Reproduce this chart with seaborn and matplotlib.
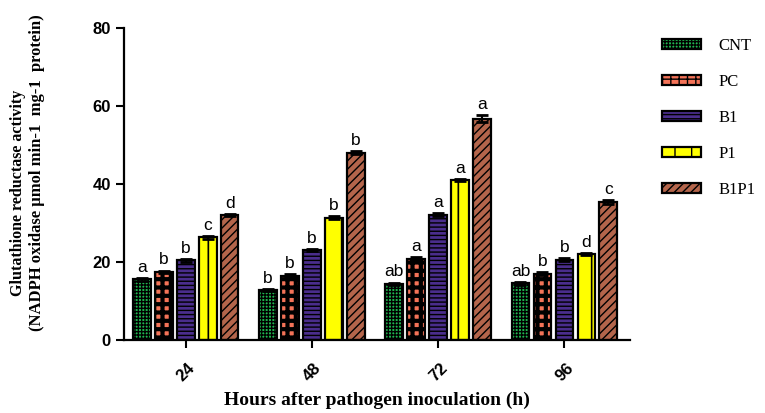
"""Glutathione reductase activity bar chart (grouped, hatched)."""

import matplotlib

matplotlib.use("Agg")
import matplotlib.pyplot as plt
import numpy as np
import pandas as pd
import seaborn as sns

# ---- data ----
hours = ["24", "48", "72", "96"]
treatments = ["CNT", "PC", "B1", "P1", "B1P1"]

cnt = [15.5, 12.8, 14.4, 14.5]
pc = [17.5, 16.5, 20.8, 17.0]
b1 = [20.4, 23.1, 32.1, 20.6]
p1 = [26.3, 31.3, 41.0, 22.0]
b1p1 = [32.0, 48.0, 56.8, 35.3]

cnt_sd = [0.3, 0.3, 0.3, 0.3]
pc_sd = [0.3, 0.3, 0.4, 0.3]
b1_sd = [0.3, 0.3, 0.4, 0.3]
p1_sd = [0.4, 0.4, 0.3, 0.3]
b1p1_sd = [0.3, 0.4, 0.8, 0.5]

letters_cnt = ["a", "b", "ab", "ab"]
letters_pc = ["b", "b", "a", "b"]
letters_b1 = ["b", "b", "a", "b"]
letters_p1 = ["c", "b", "a", "d"]
letters_b1p1 = ["d", "b", "a", "c"]

colores = ["#1fb84f", "#f47358", "#4a2d8c", "#ffff00", "#b4654b"]
hatches = ["+++++", "++", "----", "|", "////"]
hatch_lw = [1.0, 3.0, 1.0, 1.2, 1.0]

valores = [cnt, pc, b1, p1, b1p1]
desvios = [cnt_sd, pc_sd, b1_sd, p1_sd, b1p1_sd]
letras = [letters_cnt, letters_pc, letters_b1, letters_p1, letters_b1p1]

registros = []
for trat, vals in zip(treatments, valores):
    for h, v in zip(hours, vals):
        registros.append({"hora": h, "tratamento": trat, "valor": v})
df = pd.DataFrame(registros)

sns.set_style("ticks")
plt.rcParams["font.family"] = ["Liberation Sans", "DejaVu Sans"]
for chave in ["text.color", "axes.labelcolor", "xtick.color", "ytick.color",
              "axes.edgecolor"]:
    plt.rcParams[chave] = "black"

fig = plt.figure(figsize=(7.65, 4.13), dpi=100)
ax = fig.add_axes([0.162, 0.177, 0.6615, 0.755])

sns.barplot(
    data=df,
    x="hora",
    y="valor",
    hue="tratamento",
    order=hours,
    hue_order=treatments,
    palette=colores,
    saturation=1,
    width=0.87,
    gap=0.2,
    errorbar=None,
    ax=ax,
    legend=False,
)

barras = list(ax.containers)
for i, cont in enumerate(barras):
    for j, bar in enumerate(cont):
        bar.set_edgecolor("black")
        bar.set_linewidth(1.6)
        bar.set_hatch(hatches[i])
        bar._hatch_linewidth = hatch_lw[i]
        cx = bar.get_x() + bar.get_width() / 2
        top = bar.get_height()
        ax.errorbar(cx, top, yerr=desvios[i][j], fmt="none", ecolor="black",
                    elinewidth=1.5, capsize=4, capthick=2)
        ax.text(cx, top + desvios[i][j] + 0.8, letras[i][j], ha="center",
                va="bottom", fontsize=12.5)

ax.set_xlim(-0.49, 3.52)
ax.set_ylim(0, 80)
ax.set_yticks([0, 20, 40, 60, 80])
ax.tick_params(axis="both", width=1.5, length=6, labelsize=12)
for lab in ax.get_yticklabels():
    lab.set_fontweight("bold")
for lab in ax.get_xticklabels():
    lab.set_fontweight("bold")
    lab.set_rotation(45)
ax.tick_params(axis="x", pad=9)
for lado in ["left", "bottom"]:
    ax.spines[lado].set_linewidth(1.6)
sns.despine(ax=ax)

ax.set_xlabel("Hours after pathogen inoculation (h)", family="Liberation Serif",
              fontweight="bold", fontsize=14, labelpad=5)
ax.set_ylabel("")
# two-line y label, each line placed on its own like in the original
fig.text(0.023, 0.533, "Glutathione reductase activity",
         rotation=90, ha="center", va="center",
         family="Liberation Serif", fontweight="bold", fontsize=11.5)
fig.text(0.049, 0.581, "(NADPH oxidase µmol min-1  mg-1  protein)",
         rotation=90, ha="center", va="center",
         family="Liberation Serif", fontweight="bold", fontsize=12)

handles = []
for i, trat in enumerate(treatments):
    patch = plt.Rectangle((0, 0), 1, 1, facecolor=colores[i], edgecolor="black",
                          linewidth=1.6, hatch=hatches[i], label=trat)
    handles.append(patch)
ax.legend(handles=handles, loc="upper left", bbox_to_anchor=(0.846, 0.945),
          bbox_transform=fig.transFigure, frameon=False,
          prop={"family": "Liberation Serif", "size": 12},
          handlelength=2.3, handleheight=0.6, handletextpad=1.1,
          labelspacing=1.2)

fig.savefig("out.png", dpi=100)
plt.close(fig)
